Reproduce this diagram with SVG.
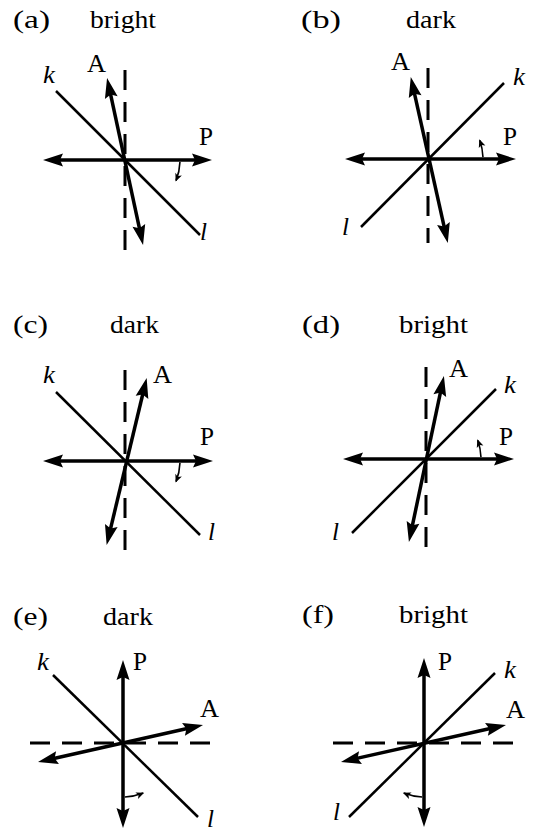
<svg xmlns="http://www.w3.org/2000/svg" width="533" height="831" viewBox="0 0 533 831">
<style>
text{font-family:"Liberation Serif","Times New Roman",serif;font-size:25px;fill:#000}
.it{font-style:italic}
.kl{stroke:#000;stroke-width:2.5;fill:none}
.dash{stroke:#000;stroke-width:3;stroke-dasharray:20 12;fill:none}
.arr{stroke:#000;stroke-width:3.5;fill:none;marker-start:url(#ah);marker-end:url(#ah)}
.rot{stroke:#000;stroke-width:1.6;fill:none;marker-end:url(#sh)}
</style>
<defs>
<marker id="ah" markerUnits="userSpaceOnUse" viewBox="-10 -10 30 20" markerWidth="30" markerHeight="20" refX="0" refY="0" orient="auto-start-reverse" overflow="visible"><path d="M15,0 L-5,-6.5 L-2,0 L-5,6.5 Z" fill="#000"/></marker>
<marker id="sh" markerUnits="userSpaceOnUse" viewBox="-10 -5 12 10" markerWidth="12" markerHeight="10" refX="0" refY="0" orient="auto" overflow="visible"><path d="M1,0 L-7,-3.5 L-5,0 L-7,3.5 Z" fill="#000"/></marker>
</defs>

<g id="panel-a">
<text x="13" y="28" textLength="37" lengthAdjust="spacingAndGlyphs">(a)</text>
<text x="90" y="28" textLength="66" lengthAdjust="spacingAndGlyphs">bright</text>
<text x="87" y="72" textLength="19" lengthAdjust="spacingAndGlyphs">A</text>
<text class="it" x="43" y="83" textLength="12" lengthAdjust="spacingAndGlyphs">k</text>
<text x="199" y="145" textLength="14" lengthAdjust="spacingAndGlyphs">P</text>
<text class="it" x="200" y="240" textLength="7" lengthAdjust="spacingAndGlyphs">l</text>
<g transform="translate(125,160)">
<line class="kl" x1="-69" y1="-69" x2="75" y2="75"/>
<line class="dash" x1="0" y1="-90" x2="0" y2="92"/>
<line class="arr" x1="-67" y1="0" x2="72" y2="0"/>
<line class="arr" x1="-14.78" y1="-67.35" x2="14.89" y2="70.32"/>
<path class="rot" d="M54.97,1.9 A55,55 0 0 1 51,20.6"/>
</g>
</g>

<g id="panel-b">
<text x="301" y="28" textLength="40" lengthAdjust="spacingAndGlyphs">(b)</text>
<text x="406" y="28" textLength="50" lengthAdjust="spacingAndGlyphs">dark</text>
<text x="391" y="70" textLength="19" lengthAdjust="spacingAndGlyphs">A</text>
<text class="it" x="513" y="85" textLength="12" lengthAdjust="spacingAndGlyphs">k</text>
<text x="503" y="145" textLength="14" lengthAdjust="spacingAndGlyphs">P</text>
<text class="it" x="342" y="235" textLength="7" lengthAdjust="spacingAndGlyphs">l</text>
<g transform="translate(428,159)">
<line class="kl" x1="-67" y1="68" x2="76" y2="-76"/>
<line class="dash" x1="0" y1="-91" x2="0" y2="84"/>
<line class="arr" x1="-68" y1="0" x2="73" y2="0"/>
<line class="arr" x1="-13.95" y1="-67.31" x2="16.53" y2="69.41"/>
<path class="rot" d="M54.97,-1.9 A55,55 0 0 0 51.7,-18.8"/>
</g>
</g>

<g id="panel-c">
<text x="13" y="333" textLength="35" lengthAdjust="spacingAndGlyphs">(c)</text>
<text x="110" y="333" textLength="49" lengthAdjust="spacingAndGlyphs">dark</text>
<text class="it" x="43" y="383" textLength="12" lengthAdjust="spacingAndGlyphs">k</text>
<text x="153" y="383" textLength="19" lengthAdjust="spacingAndGlyphs">A</text>
<text x="200" y="445" textLength="14" lengthAdjust="spacingAndGlyphs">P</text>
<text class="it" x="208" y="540" textLength="7" lengthAdjust="spacingAndGlyphs">l</text>
<g transform="translate(125,461)">
<line class="kl" x1="-69" y1="-69" x2="75" y2="74"/>
<line class="dash" x1="0" y1="-91" x2="0" y2="91"/>
<line class="arr" x1="-67" y1="0" x2="73" y2="0"/>
<line class="arr" x1="18.16" y1="-68.5" x2="-14.86" y2="69.33"/>
<path class="rot" d="M54.97,1.9 A55,55 0 0 1 51,20.6"/>
</g>
</g>

<g id="panel-d">
<text x="302" y="333" textLength="38" lengthAdjust="spacingAndGlyphs">(d)</text>
<text x="399" y="333" textLength="69" lengthAdjust="spacingAndGlyphs">bright</text>
<text x="449" y="377" textLength="19" lengthAdjust="spacingAndGlyphs">A</text>
<text class="it" x="504" y="393" textLength="12" lengthAdjust="spacingAndGlyphs">k</text>
<text x="499" y="445" textLength="14" lengthAdjust="spacingAndGlyphs">P</text>
<text class="it" x="332" y="540" textLength="7" lengthAdjust="spacingAndGlyphs">l</text>
<g transform="translate(426,459)">
<line class="kl" x1="-74" y1="74" x2="70" y2="-70"/>
<line class="dash" x1="0" y1="-92" x2="0" y2="92"/>
<line class="arr" x1="-68" y1="0" x2="73" y2="0"/>
<line class="arr" x1="14.82" y1="-68.34" x2="-13.99" y2="68.3"/>
<path class="rot" d="M54.97,-1.9 A55,55 0 0 0 51.7,-18.8"/>
</g>
</g>

<g id="panel-e">
<text x="13" y="625" textLength="35" lengthAdjust="spacingAndGlyphs">(e)</text>
<text x="103" y="625" textLength="50" lengthAdjust="spacingAndGlyphs">dark</text>
<text class="it" x="37" y="670" textLength="12" lengthAdjust="spacingAndGlyphs">k</text>
<text x="133" y="670" textLength="14" lengthAdjust="spacingAndGlyphs">P</text>
<text x="200" y="717" textLength="19" lengthAdjust="spacingAndGlyphs">A</text>
<text class="it" x="207" y="827" textLength="7" lengthAdjust="spacingAndGlyphs">l</text>
<g transform="translate(123,743)">
<line class="kl" x1="-70" y1="-68" x2="75" y2="74"/>
<line class="dash" x1="-93" y1="0" x2="90" y2="0"/>
<line class="arr" x1="0" y1="-68" x2="0" y2="70"/>
<line class="arr" x1="65.37" y1="-14.71" x2="-70.36" y2="15.73"/>
<path class="rot" d="M1.9,54 A54,54 0 0 0 20.2,50.1"/>
</g>
</g>

<g id="panel-f">
<text x="302" y="623" textLength="32" lengthAdjust="spacingAndGlyphs">(f)</text>
<text x="399" y="623" textLength="69" lengthAdjust="spacingAndGlyphs">bright</text>
<text x="438" y="670" textLength="14" lengthAdjust="spacingAndGlyphs">P</text>
<text class="it" x="504" y="678" textLength="12" lengthAdjust="spacingAndGlyphs">k</text>
<text x="506" y="718" textLength="19" lengthAdjust="spacingAndGlyphs">A</text>
<text class="it" x="333" y="820" textLength="7" lengthAdjust="spacingAndGlyphs">l</text>
<g transform="translate(424,743)">
<line class="kl" x1="-75" y1="74" x2="71" y2="-70"/>
<line class="dash" x1="-91" y1="0" x2="92" y2="0"/>
<line class="arr" x1="0" y1="-70" x2="0" y2="69"/>
<line class="arr" x1="67.35" y1="-14.78" x2="-68.38" y2="15.65"/>
<path class="rot" d="M-1.9,54 A54,54 0 0 1 -20.2,50.1"/>
</g>
</g>

<g id="connectors"></g>
</svg>
